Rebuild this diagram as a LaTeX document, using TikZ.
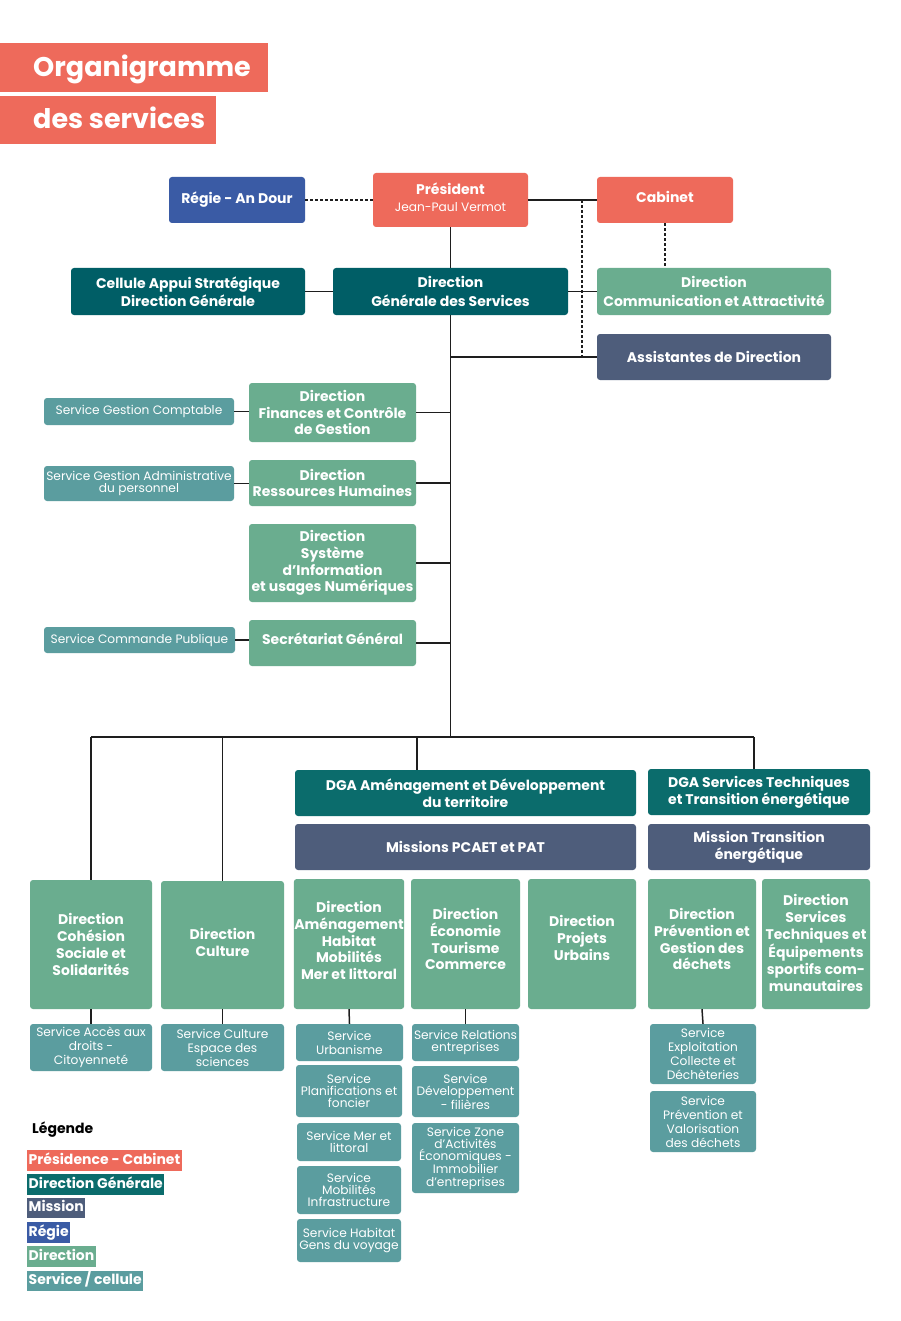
\documentclass[tikz,border=0pt]{standalone}
\usepackage{fontspec}
\setmainfont{Poppins}
\usetikzlibrary{calc}
\definecolor{coral}{HTML}{EE6A5B}
\definecolor{dgteal}{HTML}{005E66}
\definecolor{dgateal}{HTML}{0B6C6C}
\definecolor{mission}{HTML}{4E5D7B}
\definecolor{regiec}{HTML}{3A5BA5}
\definecolor{directc}{HTML}{6AAD8F}
\definecolor{servicec}{HTML}{5B9D9F}
\definecolor{linec}{HTML}{1E1E1E}
\newcommand\bx[7]{%
  \pgfmathsetmacro\bxw{#4-#2}\pgfmathsetmacro\bxh{#5-#3}%
  \pgfmathsetmacro\bxcx{(#2+#4)/2}\pgfmathsetmacro\bxcy{(#3+#5)/2}%
  \node[#6, minimum width=\bxw pt, minimum height=\bxh pt] (#1) at (\bxcx,\bxcy) {#7};}
\newcommand\dn[1]{\rule[-#1pt]{0pt}{#1pt}}
\tikzset{
  basebox/.style={rounded corners=3pt, inner sep=0.5pt, align=center, text=white, draw=none},
  bigfont/.style={font=\bfseries\fontsize{14}{16.8}\selectfont},
  widelines/.style={font=\bfseries\fontsize{14}{18.5}\selectfont},
  presbox/.style={basebox, fill=coral, bigfont},
  regiebox/.style={basebox, fill=regiec, bigfont},
  dgbox/.style={basebox, fill=dgteal, bigfont},
  dgabox/.style={basebox, fill=dgateal, bigfont},
  misbox/.style={basebox, fill=mission, bigfont},
  dirbox/.style={basebox, fill=directc, bigfont},
  svcbox/.style={basebox, fill=servicec, font=\fontsize{12.2}{14}\selectfont},
  svctight/.style={basebox, fill=servicec, font=\fontsize{12.2}{12.2}\selectfont},
  titlebox/.style={fill=coral, inner sep=0, draw=none},
  titletext/.style={text=white, font=\bfseries\fontsize{27}{30}\selectfont, inner sep=0},
  legbox/.style={inner xsep=1.5pt, inner ysep=3pt, text=white, font=\bfseries\fontsize{14}{16}\selectfont, anchor=west, text depth=3.5pt, text height=11pt},
  conn/.style={draw=linec, line width=1.5pt},
  dconn/.style={draw=linec, line width=1.4pt, dash pattern=on 3pt off 2pt},
}
\begin{document}
\begin{tikzpicture}[x=1pt,y=-1pt]
\fill[white] (0,0) rectangle (900,1321);
\useasboundingbox (0,0) rectangle (900,1321);
% title
\bx{t1}{0}{43}{268}{92}{titlebox}{}
\bx{t2}{0}{96}{216}{144}{titlebox}{}
\node[titletext, anchor=base west] (t1txt) at (33,77) {Organigramme};
\node[titletext, anchor=base west] (t2txt) at (33,129) {des services};
% top
\bx{regie}{169}{177}{305}{223}{regiebox}{Régie - An Dour}
\bx{pres}{373}{173}{528}{227}{presbox}{Président\\{\mdseries\fontsize{12.2}{13}\selectfont Jean-Paul Vermot\dn{5}}}
\bx{cab}{597}{177}{733}{223}{presbox}{Cabinet\dn{7}}
\bx{cell}{71}{268}{305}{315}{dgbox, widelines}{Cellule Appui Stratégique\\Direction Générale}
\bx{dgs}{333}{268}{568}{315}{dgbox, widelines}{Direction\\Générale des Services}
\bx{comm}{597}{268}{831}{315}{dirbox, widelines}{Direction\\Communication et Attractivité}
\bx{assist}{597}{334}{831}{380}{misbox}{Assistantes de Direction}
% support directions
\bx{fin}{249}{383}{416}{442}{dirbox}{Direction\\Finances et Contrôle\\de Gestion}
\bx{sgc}{44}{398}{234}{425}{svcbox}{Service Gestion Comptable}
\bx{rh}{249}{460}{416}{506}{dirbox}{Direction\\Ressources Humaines}
\bx{sga}{44}{466}{234}{501}{svctight}{Service Gestion Administrative\\du personnel}
\bx{si}{249}{524}{416}{602}{dirbox}{Direction\\Système\\d’Information\\et usages Numériques}
\bx{sg}{249}{620}{416}{666}{dirbox}{Secrétariat Général\dn{9}}
\bx{scp}{44}{627}{235}{653}{svcbox}{Service Commande Publique}
% DGAs
\bx{dgaa}{295}{770}{636}{816}{dgabox}{DGA Aménagement et Développement\\du territoire}
\bx{pcaet}{295}{824}{636}{870}{misbox}{Missions PCAET et PAT}
\bx{dgat}{648}{769}{870}{815}{dgabox}{DGA Services Techniques\\et Transition énergétique}
\bx{mte}{648}{824}{870}{870}{misbox}{Mission Transition\\énergétique}
% directions
\bx{coh}{30}{880}{152}{1009}{dirbox}{Direction\\Cohésion\\Sociale et\\Solidarités}
\bx{cul}{161}{881}{284}{1009}{dirbox}{Direction\\Culture\dn{6}}
\bx{amh}{295}{879}{403}{1009}{dirbox}{Direction\\Aménagement\\Habitat\\Mobilités\\Mer et littoral\dn{7}}
\bx{eco}{411}{879}{520}{1009}{dirbox}{Direction\\Économie\\Tourisme\\Commerce\dn{10}}
\bx{pu}{528}{879}{636}{1009}{dirbox}{Direction\\Projets\\Urbains\dn{12}}
\bx{prev}{648}{879}{756}{1009}{dirbox}{Direction\\Prévention et\\Gestion des\\déchets\dn{10}}
\bx{stq}{762}{879}{870}{1009}{dirbox}{Direction\\Services\\Techniques et\\Équipements\\sportifs com-\\munautaires\dn{2}}
% services
\bx{acc}{30}{1024}{152}{1071}{svcbox}{Service Accès aux\\droits -\\Citoyenneté}
\bx{scu}{161}{1024}{284}{1071}{svcbox}{Service Culture\\Espace des\\sciences}
\bx{urb}{296}{1024}{403}{1061}{svcbox}{Service\\Urbanisme}
\bx{plan}{296}{1065}{402}{1117}{svctight}{Service\\Planifications et\\foncier}
\bx{mer}{297}{1123}{401}{1161}{svctight}{Service Mer et\\littoral}
\bx{mob}{297}{1166}{401}{1214}{svctight}{Service\\Mobilités\\Infrastructure}
\bx{hab}{297}{1219}{401}{1262}{svctight}{Service Habitat\\Gens du voyage}
\bx{rel}{412}{1024}{519}{1061}{svctight}{Service Relations\\entreprises}
\bx{dev}{412}{1066}{519}{1117}{svctight}{Service\\Développement\\- filières}
\bx{zone}{412}{1123}{519}{1193}{svctight}{Service Zone\\d’Activités\\Économiques -\\Immobilier\\d’entreprises}
\bx{expl}{650}{1024}{756}{1084}{svcbox}{Service\\Exploitation\\Collecte et\\Déchèteries}
\bx{valo}{650}{1091}{756}{1152}{svcbox}{Service\\Prévention et\\Valorisation\\des déchets}
% connectors
\coordinate (dtop) at (582,200);
\coordinate (dbot) at (582,357);
\coordinate (hubL) at (91,737);
\coordinate (hubR) at (754,737);
\coordinate (hubA) at (417,737);
\draw[dconn] (regie.east) -- (pres.west);
\draw[conn] (pres.east) -- (cab.west);
\draw[dconn] (dtop) -- (dbot);
\draw[dconn] (cab.south) -- (cab.south |- comm.north);
\draw[conn] (pres.south) -- (dgs.north);
\draw[conn] (cell.east) -- (dgs.west);
\draw[conn] (dgs.east) -- (comm.west);
\draw[conn] (dgs.south) -- (dgs.south |- hubL);
\draw[conn] (assist.west) -- (assist.west -| dgs.south);
\draw[conn] (fin.east) -- (fin.east -| dgs.south);
\draw[conn] (rh.east) -- (rh.east -| dgs.south);
\draw[conn] (si.east) -- (si.east -| dgs.south);
\draw[conn] (sg.east) -- (sg.east -| dgs.south);
\draw[conn] (sgc.east) -- (sgc.east -| fin.west);
\draw[conn] (sga.east) -- (sga.east -| rh.west);
\draw[conn] (scp.east) -- (scp.east -| sg.west);
\draw[conn] (hubL) -- (hubR);
\draw[conn] (coh.north) -- (coh.north |- hubL);
\draw[conn] (cul.north) -- (cul.north |- hubL);
\draw[conn] (hubA) -- (hubA |- dgaa.north);
\draw[conn] (hubR) -- (hubR |- dgat.north);
\draw[conn] (coh.south) -- (acc.north);
\draw[conn] (cul.south) -- (scu.north);
\draw[conn] (amh.south) -- (urb.north);
\draw[conn] (eco.south) -- (rel.north);
\draw[conn] (prev.south) -- (expl.north);
% legend
\node[anchor=west, font=\bfseries\fontsize{14}{16}\selectfont, text=black, inner sep=0] (legt) at (32,1130) {Légende};
\node[legbox, fill=coral] (l1) at (27,1160.5) {Présidence - Cabinet};
\node[legbox, fill=dgateal] (l2) at (27,1184.5) {Direction Générale};
\node[legbox, fill=mission] (l3) at (27,1208) {Mission};
\node[legbox, fill=regiec] (l4) at (27,1232.5) {Régie};
\node[legbox, fill=directc] (l5) at (27,1256.5) {Direction};
\node[legbox, fill=servicec] (l6) at (27,1281) {Service / cellule};
\end{tikzpicture}
\end{document}
